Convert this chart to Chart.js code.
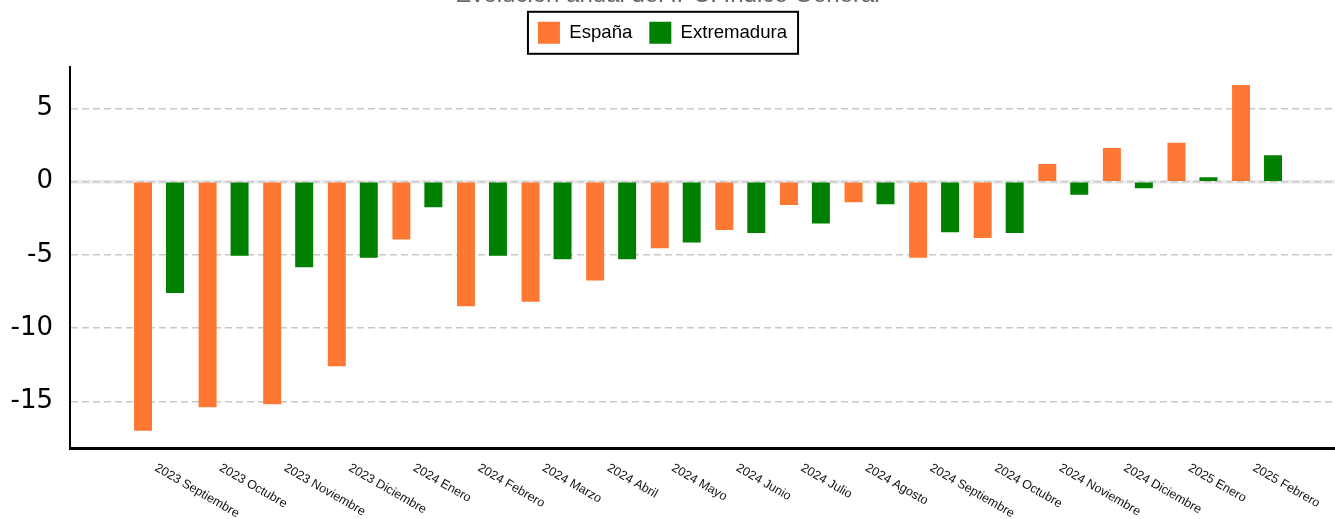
<!DOCTYPE html>
<html>
<head>
<meta charset="utf-8">
<script src="https://cdn.jsdelivr.net/npm/chart.js@4/dist/chart.umd.min.js"></script>
<style>
  html, body { margin: 0; padding: 0; background: #fff; overflow: hidden; }
  #wrap { position: absolute; left: 0; top: -19px; width: 1335px; height: 538px; }
</style>
</head>
<body>
<div id="wrap"><canvas id="myChart" width="1335" height="538"></canvas></div>
<script>
var titleText = 'Evolución anual del IPC: Índice General';
var labels = ['2023 Septiembre', '2023 Octubre', '2023 Noviembre', '2023 Diciembre',
   '2024 Enero', '2024 Febrero', '2024 Marzo', '2024 Abril', '2024 Mayo', '2024 Junio',
   '2024 Julio', '2024 Agosto', '2024 Septiembre', '2024 Octubre', '2024 Noviembre',
   '2024 Diciembre', '2025 Enero', '2025 Febrero'];
var espana = [-17.0, -15.4, -15.2, -12.6, -3.95, -8.5, -8.2, -6.75, -4.55, -3.3,
   -1.6, -1.4, -5.2, -3.85, 1.2, 2.3, 2.65, 6.6];
var extremadura = [-7.6, -5.05, -5.85, -5.2, -1.75, -5.05, -5.3, -5.3, -4.15, -3.5,
   -2.85, -1.55, -3.45, -3.5, -0.9, -0.45, 0.3, 1.8];
var yTickStep = 5;

// category axis is shifted inside the plot (first group sits ~89px right of the y axis)
var X_START = -1.378, X_RANGE = 19.585;

var legendBox = {
   id: 'legendBox',
   beforeInit: function(chart) {
      var fit = chart.legend.fit;
      chart.legend.fit = function() {
         fit.bind(chart.legend)();
         this.height += 13;
         this.lineWidths[0] += 10;
      };
   },
   afterDraw: function(chart) {
      var hb = chart.legend.legendHitBoxes;
      if (!hb || !hb.length) return;
      var last = hb[hb.length - 1];
      var ctx = chart.ctx;
      ctx.save();
      ctx.strokeStyle = '#000';
      ctx.lineWidth = 2;
      ctx.strokeRect(hb[0].left - 10, hb[0].top - 10, last.left + last.width + 11 - (hb[0].left - 10), 42);
      ctx.restore();
   }
};

var zeroBand = {
   id: 'zeroBand',
   beforeDraw: function(chart) {
      var y = chart.scales.y.getPixelForValue(0);
      var ctx = chart.ctx;
      ctx.save();
      ctx.strokeStyle = '#ececec';
      ctx.lineWidth = 4;
      ctx.beginPath();
      ctx.moveTo(chart.chartArea.left, y);
      ctx.lineTo(chart.chartArea.right, y);
      ctx.stroke();
      ctx.restore();
   }
};

var slantLabels = {
   id: 'slantLabels',
   afterDraw: function(chart) {
      var xs = chart.scales.x;
      var ctx = chart.ctx;
      ctx.save();
      ctx.fillStyle = '#111';
      ctx.font = '12.5px "Liberation Sans", Arial, sans-serif';
      ctx.textAlign = 'left';
      ctx.textBaseline = 'alphabetic';
      labels.forEach(function(l, i) {
         ctx.save();
         ctx.translate(xs.getPixelForValue(i) - 5, chart.chartArea.bottom + 22);
         ctx.rotate(Math.PI / 6);
         ctx.fillText(l, 0, 0);
         ctx.restore();
      });
      ctx.restore();
   }
};

var ctx = document.getElementById('myChart').getContext('2d');
var chart = new Chart(ctx, {
   type: 'bar',
   data: {
      labels: labels,
      datasets: [{
         label: 'España',
         data: espana,
         backgroundColor: '#fe7833',
         borderWidth: 0,
         categoryPercentage: 0.99,
         barPercentage: 0.5625
      }, {
         label: 'Extremadura',
         data: extremadura,
         backgroundColor: '#008000',
         borderWidth: 0,
         categoryPercentage: 0.99,
         barPercentage: 0.5625
      }]
   },
   options: {
      responsive: false,
      animation: false,
      layout: { padding: 0 },
      plugins: {
         title: {
            display: true,
            text: titleText,
            color: '#666',
            font: { family: '"Liberation Sans", Arial, sans-serif', size: 24, weight: 'normal', lineHeight: 1.2 },
            padding: { top: 0, bottom: -5 }
         },
         legend: {
            display: true,
            labels: {
               boxWidth: 22,
               boxHeight: 22,
               padding: 17,
               color: '#000',
               font: { family: '"Liberation Sans", Arial, sans-serif', size: 18.6 }
            }
         },
         tooltip: { enabled: false }
      },
      scales: {
         x: {
            offset: true,
            grid: { display: false },
            border: { display: true, color: '#000', width: 3 },
            ticks: { display: false },
            afterBuildTicks: function(s) { s._startValue = X_START; s._valueRange = X_RANGE; },
            afterFit: function(s) { s.height = 71; }
         },
         y: {
            min: -18.18,
            max: 7.84,
            grid: { color: '#c8c8c8', lineWidth: 1.5, drawTicks: false },
            border: { display: true, color: '#000', width: 2, dash: [7, 4] },
            ticks: {
               stepSize: yTickStep,
               includeBounds: false,
               padding: 17,
               color: '#000',
               font: { family: '"DejaVu Sans", sans-serif', size: 26 }
            },
            afterFit: function(s) { s.width = 70; }
         }
      }
   },
   plugins: [zeroBand, legendBox, slantLabels]
});
</script>
</body>
</html>
